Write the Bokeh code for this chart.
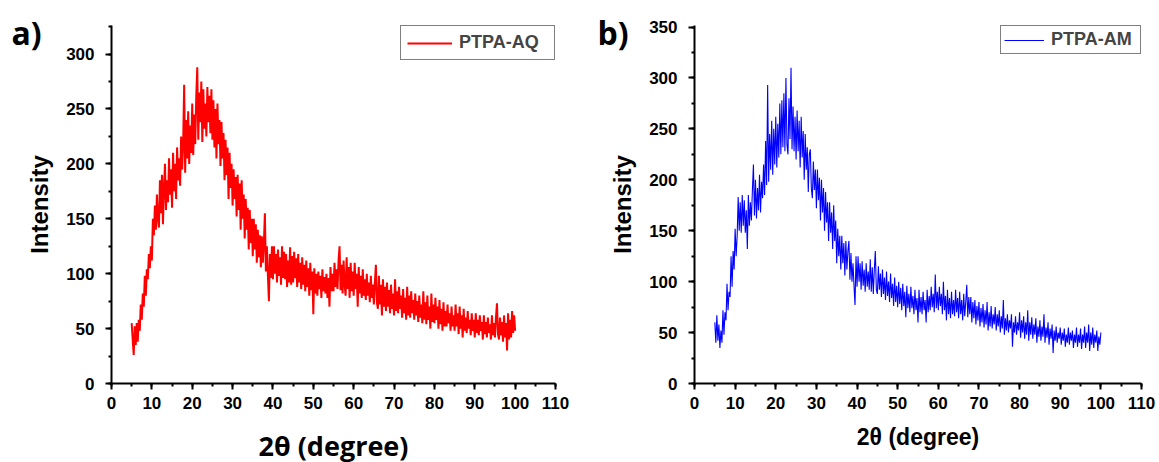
from bokeh.plotting import figure
from bokeh.layouts import row
from bokeh.models import Range1d, SingleIntervalTicker, Legend, LegendItem, Title
from bokeh.embed import file_html
from bokeh.resources import INLINE

# PTPA-AQ intensity, read off panel a), 2theta = 5.00 ... 100.00 (step 0.25)
ptpa_aq = [
    55, 40, 26, 52, 35, 55, 38, 58, 48, 72, 58, 82, 70, 98, 80, 104, 95, 118, 105, 125,
    112, 150, 135, 162, 140, 172, 150, 142, 185, 155, 190, 145, 178, 200, 158, 185, 165, 205, 172, 195,
    160, 210, 175, 200, 168, 215, 185, 205, 180, 225, 195, 218, 272, 192, 240, 205, 248, 200, 235, 210,
    255, 208, 245, 218, 262, 288, 222, 265, 238, 275, 220, 268, 232, 255, 225, 270, 238, 262, 228, 268,
    222, 258, 215, 250, 205, 255, 218, 240, 198, 238, 205, 228, 185, 222, 190, 215, 168, 210, 178, 200,
    162, 195, 168, 188, 152, 190, 158, 182, 140, 185, 150, 172, 132, 168, 140, 160, 122, 158, 128, 150,
    116, 150, 122, 145, 110, 140, 115, 135, 106, 134, 110, 128, 155, 102, 125, 98, 75, 118, 96, 125,
    95, 125, 100, 118, 92, 122, 98, 115, 90, 125, 96, 120, 95, 118, 88, 112, 92, 124, 90, 116,
    92, 120, 96, 114, 88, 118, 92, 110, 86, 115, 90, 108, 84, 112, 88, 105, 80, 110, 85, 102,
    63, 105, 82, 100, 80, 102, 86, 98, 78, 104, 84, 97, 82, 100, 78, 96, 70, 106, 84, 100,
    84, 110, 88, 104, 86, 112, 125, 85, 108, 82, 112, 90, 80, 115, 86, 106, 78, 110, 84, 102,
    80, 110, 86, 100, 70, 106, 82, 98, 78, 104, 80, 95, 76, 100, 80, 92, 74, 98, 78, 90,
    72, 92, 108, 74, 68, 98, 72, 90, 62, 95, 70, 88, 66, 92, 70, 85, 64, 90, 68, 82,
    62, 95, 66, 84, 64, 88, 68, 80, 60, 86, 64, 78, 58, 88, 62, 80, 60, 84, 64, 76,
    58, 82, 62, 75, 56, 80, 60, 72, 55, 84, 58, 74, 54, 80, 58, 70, 50, 82, 56, 72,
    55, 78, 58, 70, 50, 76, 54, 68, 48, 74, 52, 66, 52, 72, 55, 64, 48, 70, 52, 62,
    48, 72, 52, 64, 45, 70, 50, 62, 42, 68, 48, 60, 46, 66, 50, 58, 44, 64, 48, 58,
    42, 64, 46, 58, 44, 62, 48, 56, 40, 62, 45, 56, 42, 60, 46, 54, 40, 62, 44, 55,
    42, 60, 73, 45, 40, 60, 44, 56, 38, 62, 42, 55, 30, 64, 40, 58, 42, 66, 46, 62,
    48,
]

# PTPA-AM intensity, read off panel b), same 2theta grid
ptpa_am = [
    60, 40, 67, 42, 58, 35, 52, 40, 72, 48, 70, 62, 98, 72, 90, 85, 125, 95, 130, 112,
    152, 125, 145, 183, 150, 178, 148, 185, 155, 180, 148, 170, 132, 185, 155, 178, 160, 190, 215, 165,
    200, 162, 192, 170, 205, 168, 198, 182, 215, 185, 238, 195, 293, 198, 245, 210, 258, 205, 250, 215,
    262, 212, 255, 222, 275, 225, 278, 232, 285, 228, 300, 235, 225, 280, 240, 310, 230, 272, 228, 262,
    220, 268, 228, 258, 212, 262, 222, 248, 200, 245, 210, 232, 188, 225, 230, 192, 182, 218, 190, 210,
    172, 210, 180, 202, 160, 200, 168, 192, 150, 188, 158, 178, 140, 178, 148, 168, 132, 175, 140, 160,
    118, 152, 125, 145, 112, 145, 118, 138, 106, 140, 112, 130, 140, 102, 128, 100, 118, 96, 77, 125,
    95, 125, 100, 118, 92, 120, 96, 112, 90, 118, 95, 110, 92, 122, 90, 114, 88, 112, 130, 92,
    88, 115, 92, 108, 85, 112, 88, 104, 82, 110, 86, 100, 80, 108, 84, 98, 76, 104, 80, 96,
    75, 100, 78, 94, 72, 98, 76, 90, 65, 96, 74, 88, 70, 95, 74, 86, 68, 92, 72, 84,
    60, 92, 70, 85, 68, 90, 72, 82, 60, 92, 70, 86, 72, 95, 75, 88, 70, 107, 74, 90,
    72, 95, 76, 88, 68, 100, 72, 86, 62, 92, 68, 84, 64, 90, 68, 82, 66, 92, 70, 84,
    64, 90, 68, 82, 62, 88, 66, 80, 97, 65, 85, 68, 85, 60, 80, 64, 82, 58, 76, 62,
    80, 56, 74, 60, 78, 55, 72, 58, 80, 52, 70, 56, 76, 54, 68, 58, 75, 52, 68, 56,
    72, 50, 66, 54, 82, 48, 64, 52, 68, 50, 62, 54, 68, 36, 60, 50, 66, 48, 60, 52,
    70, 45, 62, 50, 66, 44, 60, 48, 72, 42, 60, 48, 65, 44, 58, 48, 64, 40, 56, 46,
    62, 42, 56, 46, 68, 40, 55, 45, 60, 38, 54, 44, 58, 30, 52, 42, 56, 40, 50, 44,
    55, 38, 50, 42, 54, 36, 48, 40, 55, 38, 50, 42, 52, 35, 48, 40, 55, 36, 48, 40,
    54, 34, 48, 40, 56, 35, 50, 40, 58, 32, 50, 38, 55, 35, 48, 40, 52, 32, 46, 38,
    50,
]

# 2theta sampling grid (degree): 5.00, 5.25, ..., 100.00
two_theta = [5.0 + 0.25 * i for i in range(len(ptpa_aq))]

x_ticks_interval = 10
y_ticks_interval = 50

TICK_FONT = "Liberation Sans"


def style_axes(p, xlabel, xlabel_font, xlabel_size, xlabel_standoff, ylabel_standoff):
    p.xaxis.ticker = SingleIntervalTicker(interval=x_ticks_interval, num_minor_ticks=2)
    p.yaxis.ticker = SingleIntervalTicker(interval=y_ticks_interval, num_minor_ticks=2)
    for ax in (p.xaxis[0], p.yaxis[0]):
        ax.axis_line_width = 2
        ax.axis_line_color = "black"
        ax.major_tick_line_width = 2
        ax.minor_tick_line_width = 2
        ax.major_tick_line_color = "black"
        ax.minor_tick_line_color = "black"
        ax.major_tick_out = 6
        ax.major_tick_in = 0
        ax.minor_tick_out = 3
        ax.minor_tick_in = 0
        ax.major_label_text_font = TICK_FONT
        ax.major_label_text_font_style = "bold"
        ax.major_label_text_font_size = "17px"
        ax.major_label_text_color = "black"
    p.xaxis.major_label_standoff = 7
    p.yaxis.major_label_standoff = 11
    p.xaxis.axis_label = xlabel
    p.xaxis.axis_label_text_font = xlabel_font
    p.xaxis.axis_label_text_font_style = "bold"
    p.xaxis.axis_label_text_font_size = xlabel_size
    p.xaxis.axis_label_text_color = "black"
    p.xaxis.axis_label_standoff = xlabel_standoff
    p.yaxis.axis_label = "Intensity"
    p.yaxis.axis_label_text_font = TICK_FONT
    p.yaxis.axis_label_text_font_style = "bold"
    p.yaxis.axis_label_text_font_size = "24px"
    p.yaxis.axis_label_text_color = "black"
    p.yaxis.axis_label_standoff = ylabel_standoff
    p.xgrid.visible = False
    p.ygrid.visible = False
    p.outline_line_color = None


def panel_letter(text, offset):
    # title in the top side panel, pulled down next to the y axis top
    return Title(text=text, align="left", vertical_align="bottom",
                 offset=offset, standoff=-56,
                 text_font="Open Sans", text_font_style="bold",
                 text_font_size="32px", text_color="black")


# ---------------- panel a ----------------
pa = figure(frame_width=444, frame_height=358,
            x_range=Range1d(0, 110), y_range=Range1d(0, 326),
            output_backend="svg", toolbar_location=None,
            min_border_left=111, min_border_right=31,
            min_border_top=25, min_border_bottom=79,
            background_fill_color="white", border_fill_color="white")
ra = pa.line(two_theta, ptpa_aq, line_color="#ff0000", line_width=2)
style_axes(pa, "2θ (degree)", "Open Sans", "27px", 15, 10)
leg_a = Legend(items=[LegendItem(label="PTPA-AQ", renderers=[ra])],
               location="top_right", margin=0, padding=6,
               glyph_width=45, label_standoff=7, label_width=89,
               border_line_color="black", border_line_width=1.5,
               label_text_font=TICK_FONT, label_text_font_style="bold",
               label_text_font_size="18px", background_fill_alpha=1)
pa.add_layout(leg_a)
pa.add_layout(panel_letter("a)", -100), "above")

# ---------------- panel b ----------------
pb = figure(frame_width=447, frame_height=358,
            x_range=Range1d(0, 110), y_range=Range1d(0, 351.5),
            output_backend="svg", toolbar_location=None,
            min_border_left=108, min_border_right=17,
            min_border_top=25, min_border_bottom=79,
            background_fill_color="white", border_fill_color="white")
rb = pb.line(two_theta, ptpa_am, line_color="#0000ff", line_width=1.1)
style_axes(pb, "2θ (degree)", TICK_FONT, "23px", 12, 10)
leg_b = Legend(items=[LegendItem(label="PTPA-AM", renderers=[rb])],
               location="top_right", margin=0, padding=3,
               glyph_width=40, label_standoff=7, label_width=86,
               border_line_color="black", border_line_width=1.5,
               label_text_font=TICK_FONT, label_text_font_style="bold",
               label_text_font_size="18px", background_fill_alpha=1)
pb.add_layout(leg_b)
pb.add_layout(panel_letter("b)", -97), "above")

layout = row(pa, pb)
open("out.html", "w").write(file_html(layout, INLINE))
